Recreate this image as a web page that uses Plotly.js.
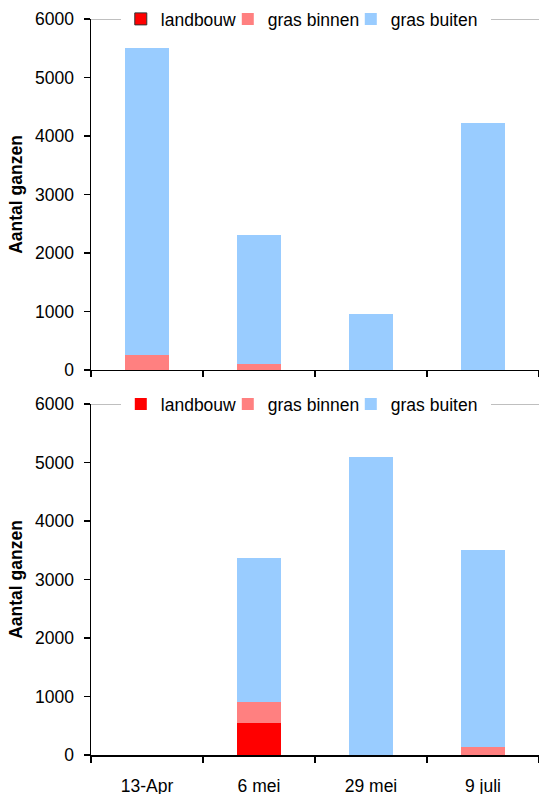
<!DOCTYPE html>
<html>
<head>
<meta charset="utf-8">
<script src="https://cdn.plot.ly/plotly-3.0.1.min.js"></script>
<style>
  html, body { margin: 0; padding: 0; background: #fff; }
  #chart { width: 539px; height: 794px; }
</style>
</head>
<body>
<div id="chart"></div>
<script>
// Counting dates
const categories = ['13-Apr', '6 mei', '29 mei', '9 juli'];

// Upper panel: geese per habitat
const landbouwTop = [0, 0, 0, 0];
const grasBinnenTop = [250, 95, 0, 0];
const grasBuitenTop = [5250, 2205, 950, 4230];

// Lower panel: geese per habitat
const landbouwBottom = [0, 555, 0, 0];
const grasBinnenBottom = [0, 345, 0, 130];
const grasBuitenBottom = [0, 2475, 5100, 3370];

const seriesNames = ['landbouw', 'gras binnen', 'gras buiten'];
const yTicks = [0, 1000, 2000, 3000, 4000, 5000, 6000];

const colors = { landbouw: '#FF0000', binnen: '#FF8080', buiten: '#99CCFF' };
// legend entry widths (px) per series, keeps the legend compact
const entryWidths = [62, 78, 95];
const FONT = 'Liberation Sans, Arial, sans-serif';
const BAR_W = 0.4;

function bar(idx, values, color, xa, ya, legend, outline) {
  const t = {
    type: 'bar', name: seriesNames[idx], x: categories, y: values,
    xaxis: xa, yaxis: ya, legend: legend, width: BAR_W,
    legendwidth: entryWidths[idx],
    marker: { color: color, line: { width: 0 } },
    hoverinfo: 'skip'
  };
  if (outline) t.marker.line = { width: 1, color: '#333333' };
  return t;
}

const data = [
  bar(0, landbouwTop, colors.landbouw, 'x', 'y', 'legend', true),
  bar(1, grasBinnenTop, colors.binnen, 'x', 'y', 'legend'),
  bar(2, grasBuitenTop, colors.buiten, 'x', 'y', 'legend'),
  bar(0, landbouwBottom, colors.landbouw, 'x2', 'y2', 'legend2'),
  bar(1, grasBinnenBottom, colors.binnen, 'x2', 'y2', 'legend2'),
  bar(2, grasBuitenBottom, colors.buiten, 'x2', 'y2', 'legend2')
];

const xCommon = {
  type: 'category', categoryorder: 'array', categoryarray: categories,
  range: [-0.5, categories.length - 0.5],
  showline: true, linecolor: '#000', linewidth: 1.5,
  ticks: 'outside', tickson: 'boundaries', ticklen: 6, tickwidth: 1.2, tickcolor: '#000',
  showgrid: false, zeroline: false, fixedrange: true,
  tickfont: { family: FONT, size: 17.5, color: '#000' }
};
const yCommon = {
  range: [0, 6000], tickvals: yTicks, ticktext: yTicks.map(String),
  showline: true, linecolor: '#000', linewidth: 1.5,
  ticks: 'outside', ticklen: 6, tickwidth: 1.2, tickcolor: '#000',
  ticklabelstandoff: 6,
  showgrid: false, zeroline: false, fixedrange: true,
  tickfont: { family: FONT, size: 17.5, color: '#000' },
  title: { text: 'Aantal ganzen', font: { family: FONT, size: 17.5, color: '#000', weight: 'bold' }, standoff: 8 }
};
const legendCommon = {
  orientation: 'h', xref: 'paper', yref: 'paper', x: 0.0665, xanchor: 'left',
  yanchor: 'middle', bgcolor: '#ffffff', borderwidth: 0, traceorder: 'normal',
  itemwidth: 30, tracegroupgap: 0,
  font: { family: FONT, size: 17.5, color: '#000' }
};

const layout = {
  width: 539, height: 794,
  margin: { l: 91, r: 0, t: 19, b: 39 },
  paper_bgcolor: '#fff', plot_bgcolor: '#fff',
  barmode: 'stack', showlegend: true,
  font: { family: FONT, color: '#000' },
  xaxis: Object.assign({}, xCommon, { anchor: 'y', showticklabels: false }),
  yaxis: Object.assign({}, yCommon, { domain: [0.5231, 1], anchor: 'x' }),
  xaxis2: Object.assign({}, xCommon, { anchor: 'y2', ticklabelstandoff: 14 }),
  yaxis2: Object.assign({}, yCommon, { domain: [0, 0.4769], anchor: 'x2' }),
  legend: Object.assign({}, legendCommon, { y: 1 }),
  legend2: Object.assign({}, legendCommon, { y: 0.4769 }),
  shapes: [
    { type: 'line', xref: 'x domain', yref: 'y', x0: 0, x1: 1, y0: 6000, y1: 6000,
      line: { color: '#808080', width: 1 }, layer: 'below' },
    { type: 'line', xref: 'x2 domain', yref: 'y2', x0: 0, x1: 1, y0: 6000, y1: 6000,
      line: { color: '#808080', width: 1 }, layer: 'below' }
  ]
};

Plotly.newPlot('chart', data, layout, { staticPlot: true, displayModeBar: false });
</script>
</body>
</html>
